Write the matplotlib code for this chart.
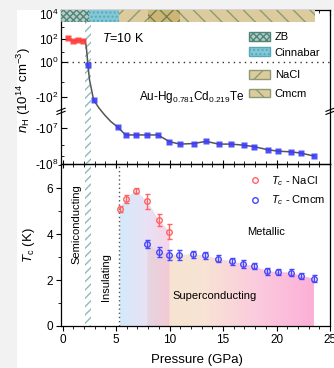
import numpy as np
import matplotlib
matplotlib.use('Agg')
import matplotlib.pyplot as plt
from matplotlib.colors import LinearSegmentedColormap
from matplotlib.patches import Patch, Rectangle
from matplotlib.lines import Line2D
from matplotlib.ticker import MultipleLocator

plt.rcParams.update({
    'font.family': 'Liberation Sans',
    'mathtext.fontset': 'custom',
    'mathtext.rm': 'Liberation Sans',
    'mathtext.it': 'Liberation Sans:italic',
    'mathtext.bf': 'Liberation Sans:bold',
    'hatch.linewidth': 1.0,
    'axes.linewidth': 0.9,
})

# --- верхняя панель: n_H (10^14 cm^-3) при T = 10 K ---
p_red = [0.47, 0.94, 1.40, 1.87]
n_red = [114, 71, 84, 75]

p_blue = [2.36, 2.90, 5.14, 5.89, 6.90, 7.93, 8.92, 9.99, 10.97, 12.24, 13.43,
          14.58, 15.76, 16.92, 17.91, 19.16, 20.13, 21.38, 22.31, 23.50]
n_blue = [0.27, -306, -6.9e6, -1.56e7, -1.56e7, -1.56e7, -1.56e7, -2.4e7, -2.8e7,
          -2.7e7, -2.35e7, -2.8e7, -2.8e7, -3.0e7, -3.3e7, -4.0e7, -4.4e7,
          -4.6e7, -5.0e7, -6.0e7]

# серая кривая-ориентир (участок перехода)
p_guide = [1.87, 2.06, 2.20, 2.29, 2.36, 2.52, 2.90, 3.40, 3.93, 4.50, 5.14, 5.89]
n_guide = [75, 80, 30, 5.6, 0.27, -6.7, -306, -6.0e3, -8.0e4, -8.9e5, -6.9e6, -1.56e7]

yticks_top = [1e4, 1e2, 1, -1e2, -1e7, -1e8]
yticklabels_top = ['$10^{4}$', '$10^{2}$', '$10^{0}$', '-$10^{2}$', '-$10^{7}$', '-$10^{8}$']
yminor_top = [1e3, 10, -10, -3e7, -6e7]

# фазы
phase_names = ['ZB', 'Cinnabar', 'NaCl', 'NaCl+Cmcm', 'Cmcm']
phase_start = [-0.2, 2.5, 5.3, 8.0, 11.0]
phase_end = [2.5, 5.3, 8.0, 11.0, 23.6]

# --- нижняя панель: Tc ---
p_nacl = [5.34, 5.90, 6.83, 7.93, 8.99, 9.99]
tc_nacl = [5.09, 5.52, 5.89, 5.42, 4.62, 4.11]
err_nacl = [0.15, 0.17, 0.12, 0.33, 0.27, 0.32]

p_cmcm = [7.93, 8.99, 9.99, 10.90, 12.20, 13.30, 14.50, 15.80, 16.85, 17.90,
          19.10, 20.10, 21.40, 22.30, 23.50]
tc_cmcm = [3.58, 3.22, 3.10, 3.10, 3.12, 3.07, 2.93, 2.81, 2.71, 2.61,
           2.39, 2.35, 2.32, 2.18, 2.06]
err_cmcm = [0.17, 0.22, 0.22, 0.22, 0.15, 0.15, 0.15, 0.15, 0.18, 0.15,
            0.15, 0.15, 0.15, 0.13, 0.15]

# шкала: симметричный лог с разрывом
ks = np.array([-9.0, -8.0, -7.0, -2.0043, 0.30103, 2.0043, 4.0, 4.5])
ku = np.array([-200.0, -164.0, -128.0, -97.0, -62.0, -39.0, -14.0, -7.75])


def fwd(v):
    v = np.asarray(v, dtype=float)
    s = np.sign(v) * np.log10(1 + np.abs(v))
    return np.interp(s, ks, ku)


def inv(u):
    s = np.interp(np.asarray(u, dtype=float), ku, ks)
    return np.sign(s) * (10 ** np.abs(s) - 1)


fig = plt.figure(figsize=(3.34, 3.68), dpi=100, facecolor='#f2f2f2')
fig.patches.append(Rectangle((0.051, 0), 0.949, 0.9728, transform=fig.transFigure,
                             facecolor='white', edgecolor='none', zorder=-10))

L, R = 61 / 334, 330 / 334
ax1 = fig.add_axes([L, 1 - 164 / 368, R - L, 154 / 368])
ax2 = fig.add_axes([L, 1 - 326 / 368, R - L, 162 / 368], sharex=ax1)
ax1.patch.set_alpha(0)
ax2.patch.set_alpha(0)

ax1.set_yscale('function', functions=(fwd, inv))
ax1.set_xlim(-0.15, 25)
ax1.set_ylim(inv(-164), inv(-10))

# полоса фаз сверху
bar_lo = 1 - 12 / 154
phase_style = {
    'ZB': dict(facecolor='#b9cbc2', edgecolor='#4d857c', hatch='xxxxx'),
    'Cinnabar': dict(facecolor='#84c8d6', edgecolor='#55a9bb', hatch='....'),
    'NaCl': dict(facecolor='#dccb9c', edgecolor='#8d9a76', hatch='//'),
    'NaCl+Cmcm': dict(facecolor='#cdb673', edgecolor='#6f7f58', hatch='xx'),
    'Cmcm': dict(facecolor='#dccb9c', edgecolor='#8d9a76', hatch='\\\\'),
}
for name, a, b in zip(phase_names, phase_start, phase_end):
    ax1.axvspan(a, b, ymin=bar_lo, ymax=1, lw=0, zorder=4, **phase_style[name])

# заштрихованная полоса ~2.4 ГПа
ax1.axvspan(2.12, 2.69, ymin=0, ymax=bar_lo, facecolor='none', edgecolor='#8dbdbb',
            hatch='////', lw=0, zorder=1)
ax2.axvspan(2.12, 2.69, facecolor='none', edgecolor='#8dbdbb', hatch='////', lw=0, zorder=1)

ax1.axhline(1, color='#333333', ls=(0, (1, 3)), lw=1, zorder=1)

gp = p_guide + p_blue[4:]
gn = n_guide + n_blue[4:]
ax1.plot(gp, gn, color='#555555', lw=1.1, zorder=2)
ax1.plot(p_red, n_red, color='#ff5050', lw=1.2, marker='s', ms=4, mfc='#ff3b3b',
         mec='none', alpha=0.9, zorder=3)
ax1.plot(p_blue, n_blue, ls='none', marker='s', ms=4, mfc='#3c3cf7', mec='none',
         alpha=0.9, zorder=3)

ax1.set_yticks(yticks_top)
ax1.set_yticklabels(yticklabels_top)
ax1.set_yticks(yminor_top, minor=True)
ax1.tick_params(axis='y', which='major', direction='in', length=4, labelsize=8.5, pad=2)
ax1.tick_params(axis='y', which='minor', direction='in', length=2.5)
ax1.xaxis.set_major_locator(MultipleLocator(5))
ax1.xaxis.set_minor_locator(MultipleLocator(1))
ax1.tick_params(axis='x', which='major', direction='inout', length=6, labelbottom=False)
ax1.tick_params(axis='x', which='minor', direction='inout', length=4)
sec = ax1.secondary_xaxis('top')
sec.xaxis.set_major_locator(MultipleLocator(5))
sec.xaxis.set_minor_locator(MultipleLocator(1))
sec.tick_params(which='major', direction='in', length=4, labeltop=False)
sec.tick_params(which='minor', direction='in', length=2)
sec.spines['top'].set_visible(False)

ax1.set_ylabel('$n_\\mathrm{H}$ (10$^{14}$ cm$^{-3}$)', fontsize=9.5)
ax1.yaxis.set_label_coords(-0.105, 0.48)

# знаки разрыва оси
for xa in (0, 1):
    for dy in (0, 0.02):
        ax1.plot([xa - 0.015, xa + 0.015], [0.322 + dy, 0.342 + dy], transform=ax1.transAxes,
                 color='k', lw=0.8, clip_on=False, zorder=6)

ax1.text(3.65, 1.1e2, '$T$=10 K', fontsize=9, va='center')
ax1.text(7.1, -1.0e2, 'Au-Hg$_{0.781}$Cd$_{0.219}$Te', fontsize=8.5, va='center')

h1 = [Patch(**phase_style['ZB']), Patch(**phase_style['Cinnabar'])]
leg1 = ax1.legend(h1, ['ZB', 'Cinnabar'], loc='upper left', bbox_to_anchor=(0.70, 0.855),
                  frameon=False, fontsize=8, handlelength=1.9, handleheight=0.8,
                  handletextpad=0.4, labelspacing=0.45, borderpad=0, borderaxespad=0)
ax1.add_artist(leg1)
h2 = [Patch(**phase_style['NaCl']), Patch(**phase_style['Cmcm'])]
ax1.legend(h2, ['NaCl', 'Cmcm'], loc='upper left', bbox_to_anchor=(0.70, 0.61),
           frameon=False, fontsize=8, handlelength=1.9, handleheight=0.8,
           handletextpad=0.4, labelspacing=0.75, borderpad=0, borderaxespad=0)


# --- нижняя панель ---
def grad_fill(ax, x, y, colors, alpha, z):
    xx = np.r_[x[0], x, x[-1]]
    yy = np.r_[0, y, 0]
    poly, = ax.fill(xx, yy, facecolor='none', edgecolor='none')
    cmap = LinearSegmentedColormap.from_list('g', colors)
    img = ax.imshow(np.linspace(0, 1, 256)[None, :], cmap=cmap, aspect='auto',
                    extent=[x[0], x[-1], 0, max(y) + 0.1], origin='lower',
                    alpha=alpha, zorder=z, interpolation='bilinear')
    img.set_clip_path(poly)


grad_fill(ax2, p_cmcm, tc_cmcm, ['#f5e3cf', '#f8e4d4', '#fbcade', '#fcb0d6'], 1.0, 0.3)
grad_fill(ax2, p_nacl, tc_nacl, ['#b8dcf8', '#d8d0f0', '#f2b8d8'], 0.6, 0.4)

ax2.axvline(5.3, color='#555555', ls=(0, (1, 2)), lw=1, zorder=1)

ax2.errorbar(p_nacl, tc_nacl, yerr=err_nacl, fmt='o', ms=4, mfc='none', mec='#ff6464',
             mew=1, ecolor='#ff6464', elinewidth=1, capsize=1.8, zorder=3)
ax2.errorbar(p_cmcm, tc_cmcm, yerr=err_cmcm, fmt='o', ms=4, mfc='none', mec='#4646ff',
             mew=1, ecolor='#4646ff', elinewidth=1, capsize=1.8, zorder=3)

ax2.set_xlim(-0.15, 25)
ax2.set_ylim(0, 7.05)
ax2.set_yticks([0, 2, 4, 6])
ax2.yaxis.set_minor_locator(MultipleLocator(1))
ax2.tick_params(axis='both', which='major', direction='out', length=3.5, labelsize=8.5, pad=2)
ax2.tick_params(axis='both', which='minor', direction='out', length=2)
ax2.set_xlabel('Pressure (GPa)', fontsize=9.5)
ax2.xaxis.set_label_coords(0.507, -0.17)
ax2.set_ylabel('$T_\\mathrm{c}$ (K)', fontsize=9.5)
ax2.yaxis.set_label_coords(-0.09, 0.5)

ax2.text(1.3, 4.45, 'Semiconducting', rotation=90, fontsize=8, ha='center', va='center')
ax2.text(4.1, 2.15, 'Insulating', rotation=90, fontsize=8, ha='center', va='center')
ax2.text(19.0, 4.07, 'Metallic', fontsize=8, ha='center', va='center')
ax2.text(14.2, 1.3, 'Superconducting', fontsize=8, ha='center', va='center')

hl = [Line2D([], [], ls='none', marker='o', ms=4, mfc='none', mec='#ff6464', mew=1),
      Line2D([], [], ls='none', marker='o', ms=4, mfc='none', mec='#4646ff', mew=1)]
ax2.legend(hl, ['$T_c$ - NaCl', '$T_c$ - Cmcm'], loc='upper left', bbox_to_anchor=(0.69, 0.94),
           frameon=False, fontsize=8, handlelength=1.6, handletextpad=0.6,
           labelspacing=0.55, borderpad=0, borderaxespad=0)

fig.savefig('out.png', dpi=100, facecolor=fig.get_facecolor())
